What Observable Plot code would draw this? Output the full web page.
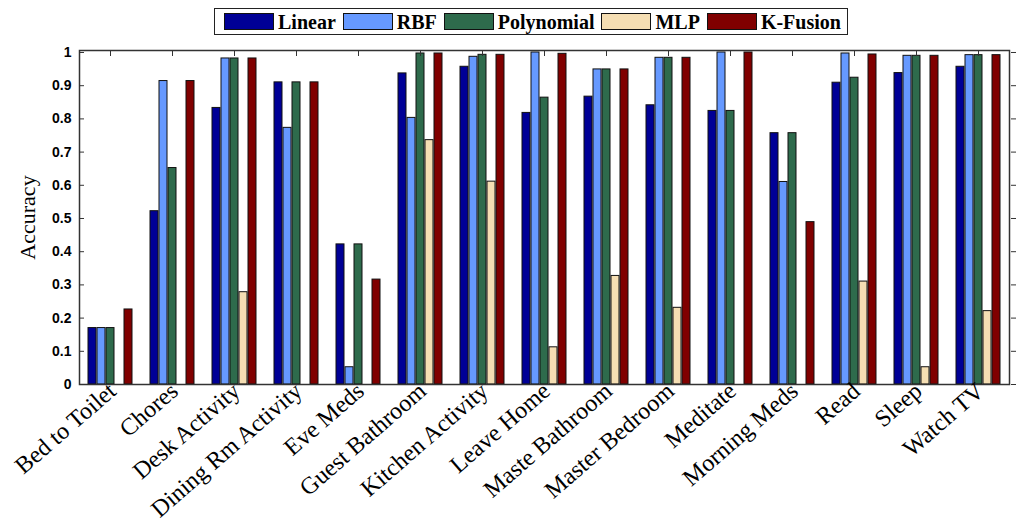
<!DOCTYPE html>
<html>
<head>
<meta charset="utf-8">
<script src="https://cdn.jsdelivr.net/npm/d3@7"></script>
<script src="https://cdn.jsdelivr.net/npm/@observablehq/plot@0.6"></script>
<style>
  html, body { margin: 0; padding: 0; background: #fff; }
  #wrap { position: relative; width: 1024px; height: 523px; overflow: hidden; }
  #legend { position: absolute; left: 214px; top: 8px; height: 25px; box-sizing: content-box;
    border: 1.5px solid #222; display: flex; align-items: center; padding: 0 6px 0 9px; background: #fff; z-index: 2; }
  #legend .item { display: flex; align-items: center; margin-right: 7px; }
  #legend .item:last-child { margin-right: 0; }
  #legend .sw { width: 48px; height: 15px; border: 1.2px solid #111; margin-right: 4px; }
  #legend .lb { font-family: "Liberation Serif", "Times New Roman", serif; font-weight: bold; font-size: 20px; line-height: 20px; color: #000; }
  #chart { position: absolute; left: 0; top: 40px; }
</style>
</head>
<body>
<div id="wrap">
  <div id="legend"></div>
  <div id="chart"></div>
</div>
<script>
const categories = ["Bed to Toilet", "Chores", "Desk Activity", "Dining Rm Activity", "Eve Meds",
  "Guest Bathroom", "Kitchen Activity", "Leave Home", "Maste Bathroom", "Master Bedroom",
  "Meditate", "Morning Meds", "Read", "Sleep", "Watch TV"];
const series = ["Linear", "RBF", "Polynomial", "MLP", "K-Fusion"];
const colors = ["#000096", "#6699ff", "#2e6b4c", "#f5deb3", "#800000"];
const linear  = [0.170, 0.522, 0.833, 0.910, 0.422, 0.937, 0.957, 0.818, 0.867, 0.841, 0.824, 0.757, 0.909, 0.938, 0.957];
const rbf     = [0.170, 0.914, 0.982, 0.773, 0.052, 0.803, 0.987, 1.000, 0.949, 0.984, 1.000, 0.610, 0.997, 0.990, 0.992];
const poly    = [0.170, 0.652, 0.982, 0.910, 0.422, 0.997, 0.993, 0.864, 0.949, 0.984, 0.824, 0.757, 0.924, 0.990, 0.992];
const mlp     = [0.000, 0.000, 0.278, 0.000, 0.000, 0.736, 0.611, 0.112, 0.327, 0.231, 0.000, 0.000, 0.310, 0.052, 0.221];
const kfusion = [0.226, 0.914, 0.982, 0.910, 0.316, 0.997, 0.993, 0.996, 0.949, 0.984, 1.000, 0.489, 0.994, 0.990, 0.992];
const yTicks = [0, 0.1, 0.2, 0.3, 0.4, 0.5, 0.6, 0.7, 0.8, 0.9, 1];

const values = [linear, rbf, poly, mlp, kfusion];
const data = [];
categories.forEach((c, i) => series.forEach((s, j) => data.push({category: c, series: s, value: values[j][i]})));

// legend
const lg = d3.select("#legend");
series.forEach((s, j) => {
  const it = lg.append("div").attr("class", "item");
  it.append("div").attr("class", "sw").style("background", colors[j]);
  it.append("span").attr("class", "lb").text(s);
});

const serif = "Liberation Serif, Times New Roman, serif";
const sans = "Liberation Sans, Arial, sans-serif";

const chart = Plot.plot({
  width: 1024,
  height: 483,
  marginLeft: 78,
  marginRight: 8,
  marginTop: 10,
  marginBottom: 139,
  style: {background: "transparent", overflow: "visible"},
  fx: {domain: categories, padding: 0, axis: null, insetRight: 6},
  x: {domain: series, paddingInner: 0.15, paddingOuter: 0.88, axis: null},
  y: {domain: [0, 1.006], axis: null},
  color: {domain: series, range: colors},
  marks: [
    Plot.barY(data, {fx: "category", x: "series", y: "value", fill: "series", stroke: "#111", strokeWidth: 1}),
    Plot.frame({facet: "super", stroke: "#333", strokeWidth: 1.5}),
    Plot.axisY({anchor: "left", ticks: yTicks, tickSize: -5, tickPadding: 13, stroke: "#333",
      tickFormat: d3.format("~g"), fontFamily: sans, fontWeight: "bold", fontSize: 14, fill: "#000",
      label: "Accuracy", labelAnchor: "center", labelArrow: "none", labelOffset: 60}),
    Plot.axisY({anchor: "right", dx: 6, ticks: yTicks, tickSize: -5, stroke: "#333", tickFormat: () => "", label: null}),
    Plot.axisFx({anchor: "top", tickSize: -5, stroke: "#333", tickFormat: () => "", label: null}),
    Plot.axisFx({anchor: "bottom", tickSize: 0, tickPadding: 3, tickRotate: -41, textAnchor: "end",
      dx: 2, fontFamily: serif, fontSize: 24, fill: "#000", label: null})
  ]
});
document.getElementById("chart").appendChild(chart);
// style the y label font
d3.select(chart).selectAll("g[aria-label='y-axis label'] text").attr("font-family", serif).attr("font-size", 22).attr("font-weight", "normal");
</script>
</body>
</html>
